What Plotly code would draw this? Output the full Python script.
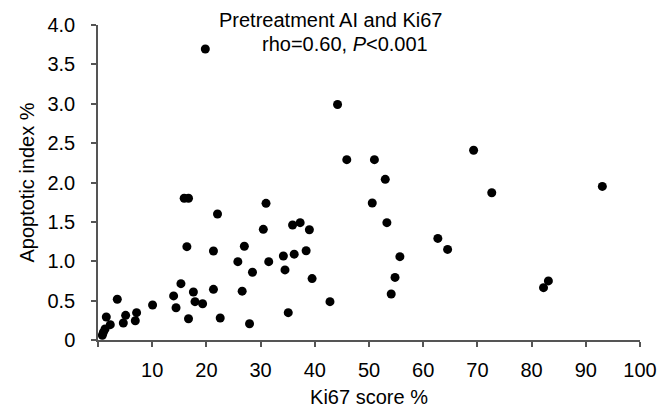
import plotly.graph_objects as go

ki67 = [19.8, 44.2, 69.3, 45.9, 51.0, 53.0, 15.9, 16.7, 50.6, 31.0, 22.05, 72.65, 93.05,
        53.3, 35.9, 37.3, 39.0, 30.5, 62.7, 64.5, 16.4, 21.3, 27.0, 34.2, 36.2, 38.4, 55.7,
        25.8, 31.5, 28.5, 34.5, 39.5, 54.8, 15.3, 26.6, 21.3, 17.6, 54.1, 13.95, 83.1, 82.2,
        42.8, 17.9, 19.3, 10.07, 3.56, 14.4, 35.1, 7.12, 5.1, 1.53, 16.7, 22.55, 6.88, 4.67,
        27.96, 2.27, 1.3, 1.0, 0.8]
ai = [3.695, 2.99, 2.41, 2.29, 2.29, 2.04, 1.80, 1.80, 1.74, 1.735, 1.60, 1.87, 1.95,
      1.49, 1.46, 1.49, 1.40, 1.405, 1.29, 1.15, 1.185, 1.13, 1.19, 1.067, 1.09, 1.134, 1.058,
      0.995, 0.995, 0.86, 0.89, 0.78, 0.795, 0.715, 0.62, 0.643, 0.61, 0.584, 0.56, 0.75, 0.665,
      0.487, 0.487, 0.46, 0.444, 0.517, 0.41, 0.347, 0.347, 0.313, 0.292, 0.27, 0.28, 0.245, 0.216,
      0.207, 0.195, 0.14, 0.10, 0.06]

x_tickvals = [0, 10, 20, 30, 40, 50, 60, 70, 80, 90, 100]
x_ticktext = ["", "10", "20", "30", "40", "50", "60", "70", "80", "90", "100"]
y_tickvals = [0, 0.5, 1.0, 1.5, 2.0, 2.5, 3.0, 3.5, 4.0]
y_ticktext = ["0", "0.5", "1.0", "1.5", "2.0", "2.5", "3.0", "3.5", "4.0"]

FONT = "Liberation Sans, Arial, Helvetica, sans-serif"
AX = "#555555"

fig = go.Figure(go.Scatter(
    x=ki67, y=ai, mode="markers",
    marker=dict(color="black", size=9, line=dict(width=0)),
    cliponaxis=False, hoverinfo="skip"))

fig.update_layout(
    width=664, height=410,
    margin=dict(l=98, r=24, t=25, b=70),
    paper_bgcolor="white", plot_bgcolor="white",
    showlegend=False,
    font=dict(family=FONT, size=20, color="black"),
    xaxis=dict(range=[0, 100], tickvals=x_tickvals, ticktext=x_ticktext, automargin=False,
               showgrid=False, zeroline=False, showline=True, linecolor=AX, linewidth=1.5,
               ticks="outside", ticklen=5, tickcolor=AX, tickwidth=1.5,
               tickfont=dict(size=20), ticklabelstandoff=6,
               title=dict(text="Ki67 score %", font=dict(size=20), standoff=10)),
    yaxis=dict(range=[0, 4], tickvals=y_tickvals, ticktext=y_ticktext, automargin=False,
               showgrid=False, zeroline=False, showline=True, linecolor=AX, linewidth=1.5,
               ticks="outside", ticklen=5, tickcolor=AX, tickwidth=1.5,
               tickfont=dict(size=20), ticklabelstandoff=12,
               title=dict(text="Apoptotic index %", font=dict(size=20), standoff=7)),
    annotations=[
        dict(text="Pretreatment AI and Ki67", xref="paper", yref="paper",
             x=(330 - 98) / 542, y=(340 - 20) / 315, xanchor="center", yanchor="middle",
             showarrow=False, font=dict(size=20)),
        dict(text="rho=0.60, <i>P</i><0.001", xref="paper", yref="paper",
             x=(345 - 98) / 542, y=(340 - 44) / 315, xanchor="center", yanchor="middle",
             showarrow=False, font=dict(size=20)),
    ],
)

fig.write_html("out.html")
